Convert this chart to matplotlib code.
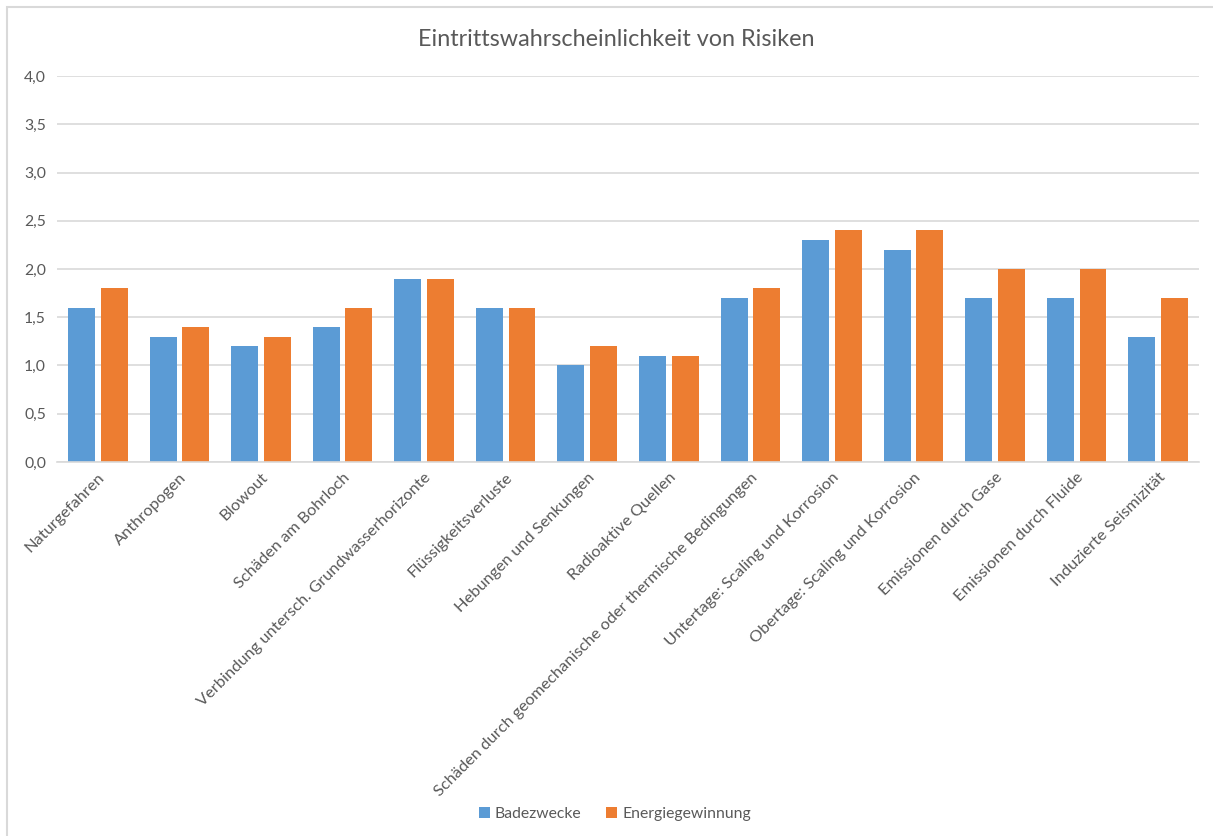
import numpy as np
import matplotlib.pyplot as plt
from matplotlib.patches import Rectangle

plt.rcParams['font.family'] = ['Lato', 'DejaVu Sans']

kategorien = ['Naturgefahren', 'Anthropogen', 'Blowout', 'Schäden am Bohrloch',
              'Verbindung untersch. Grundwasserhorizonte', 'Flüssigkeitsverluste',
              'Hebungen und Senkungen', 'Radioaktive Quellen',
              'Schäden durch geomechanische oder thermische Bedingungen',
              'Untertage: Scaling und Korrosion', 'Obertage: Scaling und Korrosion',
              'Emissionen durch Gase', 'Emissionen durch Fluide', 'Induzierte Seismizität']
badezwecke = [1.6, 1.3, 1.2, 1.4, 1.9, 1.6, 1.0, 1.1, 1.7, 2.3, 2.2, 1.7, 1.7, 1.3]
energie = [1.8, 1.4, 1.3, 1.6, 1.9, 1.6, 1.2, 1.1, 1.8, 2.4, 2.4, 2.0, 2.0, 1.7]
yticks = [0, 0.5, 1.0, 1.5, 2.0, 2.5, 3.0, 3.5, 4.0]

grau = '#595959'
fig = plt.figure(figsize=(12.13, 8.36), dpi=100)
ax = fig.add_axes([0.047, 0.4474, 0.9415, 0.4616])

x = np.arange(len(kategorien))
b = 0.33
ax.bar(x - 0.2, badezwecke, b, color='#5B9BD5', label='Badezwecke', zorder=2)
ax.bar(x + 0.2, energie, b, color='#ED7D31', label='Energiegewinnung', zorder=2)

ax.set_xlim(-0.5, len(kategorien) - 0.5)
ax.set_ylim(0, 4)
ax.set_yticks(yticks)
ax.set_yticklabels([('%.1f' % v).replace('.', ',') for v in yticks], color=grau, fontsize=11.3)
ax.set_xticks(x)
ax.set_xticklabels(kategorien, rotation=45, ha='right', rotation_mode='anchor',
                   color=grau, fontsize=11.8)
ax.tick_params(axis='both', length=0, pad=8)
ax.tick_params(axis='x', pad=6)
ax.grid(axis='y', color='#D9D9D9', linewidth=1.2, zorder=0)
for s in ['top', 'right', 'left']:
    ax.spines[s].set_visible(False)
ax.spines['bottom'].set_color('#D9D9D9')
ax.spines['bottom'].set_linewidth(1.2)

fig.text(0.508, 0.953, 'Eintrittswahrscheinlichkeit von Risiken', ha='center', va='center',
         fontsize=16.8, color=grau)
fig.legend(loc='center', bbox_to_anchor=(0.507, 0.026), ncol=2, frameon=False, fontsize=11.3,
           handlelength=0.7, handleheight=0.7, columnspacing=1.6, handletextpad=0.3,
           labelcolor=grau)

fig.patches.append(Rectangle((7 / 1213, -0.1), 1.2, 1 - 7 / 836 + 0.1, transform=fig.transFigure,
                             fill=False, edgecolor='#D9D9D9', linewidth=1.5))

fig.savefig('out.png', dpi=100)
